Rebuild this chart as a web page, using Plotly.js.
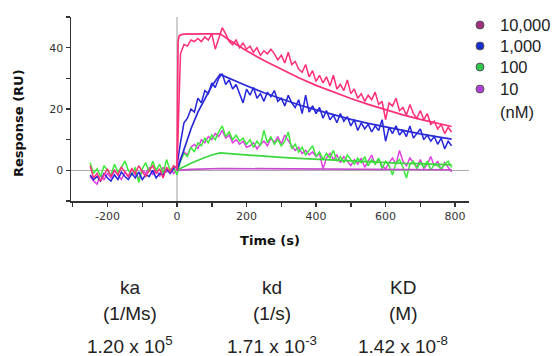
<!DOCTYPE html>
<html>
<head>
<meta charset="utf-8">
<script src="https://cdn.plot.ly/plotly-3.0.1.min.js"></script>
<style>html,body{margin:0;padding:0;background:#fff;}#chart{width:555px;height:356px;}</style>
</head>
<body>
<div id="chart"></div>
<script>
// ---- data ----
const time = [-250,-240,-230,-220,-210,-200,-190,-180,-170,-160,-150,-140,-130,-120,-110,-100,-90,-80,-70,-60,-50,-40,-30,-20,-10,0,
  10,20,30,40,50,60,70,80,90,100,110,120,130,140,150,160,170,180,190,200,
  210,220,230,240,250,260,270,280,290,300,310,320,330,340,350,360,370,380,390,400,
  410,420,430,440,450,460,470,480,490,500,510,520,530,540,550,560,570,580,590,600,
  610,620,630,640,650,660,670,680,690,700,710,720,730,740,750,760,770,780,790];

const resp10000 = [1.5,-2.5,-1,-3.5,-1.5,0.5,-2,0,-1.5,1,-0.5,-2,0.5,-1,1.5,-0.5,-2,0,1.5,-1,0.5,-2.5,1,-0.5,1.5,0.5,
  38,41,40.5,42.5,42,43,42,43.5,42.5,44.5,
  39.5,43,46.5,44.5,42,41,42.5,40,41.5,39.5,
  40.5,38.5,40,37.5,39,38,39.5,38,36,37.5,
  35,38.5,34.5,35.5,33,32,34.5,30.5,32.5,29,
  31,28.5,30.5,27.5,31,26.5,28,26,29.5,25,
  26.5,23.5,25,22.5,24.5,23,25.5,21.5,22.5,16.5,
  22,21,23.5,19.5,20.5,18,21.5,18.5,17,19.5,
  16.5,18.5,15,16,13.5,15,12,14,12.5];

const resp1000 = [-1.5,-3,-2,-3.5,-1,-2.5,-3.5,-1.5,-3,-0.5,-2,-3,-1,-2.5,-0.5,-3,-1.5,-2,0,-2.5,-1,-1.5,0.5,-1,0.5,1.5,
  9,15.5,17,20,19,23.5,22,26,25,28.5,
  27,30,31.5,28,29.5,26.5,28,25,22,26.5,
  24.5,27,23.5,25,22.5,25.5,24,26,22.5,23.5,
  21,24.5,22,20.5,23,18.5,24.5,19,21,18.5,
  20.5,17,19.5,16.5,18,15.5,18.5,16,17.5,14.5,
  16.5,13,15.5,13.5,15,12.5,14.5,13,16.5,9.5,
  14,12,14.5,11.5,13,11,14.5,10.5,12,13.5,
  10,11.5,9.5,11,8.5,10.5,7,9.5,8];

const resp100 = [2.5,-1,0.5,-2,1.5,0,-1.5,2,-0.5,1,3,0,-1.5,1,-4,0.5,2.5,-0.5,3,0,2,-1,3.5,0,1,-1.5,
  3,5.5,4.5,7.5,6,9,8,10.5,9,11.5,
  10,12.5,14.5,11,12.5,10,11.5,9.5,10.5,8.5,
  10,7.5,9.5,8,13,9,11,8.5,10,8,
  9.5,12.5,7,8.5,6,7.5,5,6.5,8,4.5,
  6,3.5,5.5,4,6.5,3,4.5,2.5,5,3.5,
  2,4,2.5,4.5,1.5,3.5,2,4,0.5,3,
  1.5,-1.5,2.5,3.5,1,-2.5,2,3,0.5,2.5,
  1,3,0,2,1.5,0.5,2,3,1];

const resp10 = [-2,-3.5,-4.5,-1.5,-3,-1,-2.5,0,-1.5,-3,-0.5,-2,0.5,-1.5,-2.5,0,-1,1,-1.5,0.5,-2,1,-0.5,0.5,-1,0.5,
  4,6,5,7.5,8.5,7,10,9,11,10,
  12,11,13,10.5,11.5,9,10,8.5,9.5,7.5,
  8,9,7,8.5,9.5,8,10.5,9,11,8.5,
  11.5,9.5,8,6.5,7.5,5.5,6.5,5,6,4.5,
  5.5,0.5,4,5.5,3.5,5,2.5,4.5,3,1.5,
  3.5,2,4,1,3,5,2,3.5,1.5,0.5,
  2.5,4,2,6.5,3,1.5,4,2.5,1,3.5,
  0.5,2,4.5,1.5,3,0,2.5,1,-0.5];

const fitTime = [0,3,6,10,20,40,60,80,100,124,150,200,250,300,350,400,450,500,550,600,650,700,750,790];
const fit10000 = [0,42,43.8,44.2,44.4,44.5,44.5,44.5,44.5,44.5,42.5,39.0,35.8,32.9,30.2,27.7,25.5,23.4,21.5,19.7,18.1,16.6,15.3,14.3];
const fit1000  = [0,1,2.1,3.5,7,13.5,19,23.5,27.5,31.3,30.0,27.6,25.3,23.3,21.4,19.7,18.1,16.6,15.3,14.1,12.9,11.9,10.9,10.2];
const fit100   = [0,0.2,0.35,0.6,1.2,2.3,3.3,4.2,5.0,5.7,5.45,5.0,4.6,4.2,3.9,3.6,3.3,3.0,2.8,2.6,2.3,2.2,2.0,1.8];
const fit10    = [0,0,0.05,0.08,0.15,0.3,0.4,0.5,0.55,0.6,0.57,0.53,0.48,0.44,0.41,0.38,0.35,0.32,0.29,0.27,0.25,0.23,0.21,0.19];

const concLabels = ['10,000','1,000','100','10'];
const concUnit = '(nM)';
const xTickVals = [-200,0,200,400,600,800];
const xTickText = ['-200','0','200','400','600','800'];
const xMinorVals = [-300,-100,100,300,500,700];
const yTickVals = [0,20,40];
const yTickText = ['0','20','40'];
const yMinorVals = [-10,10,30,50];

const paramNames = ['ka','kd','KD'];
const paramUnits = ['(1/Ms)','(1/s)','(M)'];
const paramValues = ['1.20 x 10<sup>5</sup>','1.71 x 10<sup>-3</sup>','1.42 x 10<sup>-8</sup>'];

// ---- styles ----
const lineColors = ['#ff2e78','#2424dc','#3bea3b','#e23ee2'];
const fitColors  = ['#ff2e78','#2a2ad8','#3ad83a','#c848d0'];
const legendColors = ['#a0307f','#1530d2','#30c84a','#b23ed8'];
const dataSets = [resp10000, resp1000, resp100, resp10];
const fitSets = [fit10000, fit1000, fit100, fit10];

const traces = [];
[3,2,1,0].forEach(i => {
  traces.push({x: time, y: dataSets[i], type: 'scatter', mode: 'lines', name: concLabels[i] + ' nM data',
    line: {color: lineColors[i], width: 1.5}, showlegend: false, hoverinfo: 'skip'});
});
[3,2,1,0].forEach(i => {
  traces.push({x: fitTime, y: fitSets[i], type: 'scatter', mode: 'lines', name: concLabels[i] + ' nM fit',
    line: {color: fitColors[i], width: 1.7}, showlegend: false, hoverinfo: 'skip'});
});

// plot-area geometry (pixels) used to place legend / table in paper coords
const PL = 71, PW = 398, PT = 17, PH = 184;
const px2x = p => (p - PL) / PW;
const py2y = p => (PT + PH - p) / PH;

const annotations = [];
const shapes = [];
const legFont = {family: 'Liberation Sans, Arial, sans-serif', size: 16.5, color: '#222'};
const legRowY = [25, 46, 67, 89];
concLabels.forEach((lab, i) => {
  const cy = legRowY[i];
  shapes.push({type: 'circle', xref: 'paper', yref: 'paper',
    x0: px2x(476), x1: px2x(484), y0: py2y(cy + 4), y1: py2y(cy - 4),
    fillcolor: legendColors[i], line: {color: '#555', width: 1}});
  annotations.push({text: lab, xref: 'paper', yref: 'paper', x: px2x(498), y: py2y(cy),
    xanchor: 'left', yanchor: 'middle', showarrow: false, font: legFont});
});
annotations.push({text: concUnit, xref: 'paper', yref: 'paper', x: px2x(498), y: py2y(112),
  xanchor: 'left', yanchor: 'middle', showarrow: false, font: legFont});

const tableX = [130, 272, 403];
const tableRowY = [287, 313, 345];
const tf = {family: 'Liberation Sans, Arial, sans-serif', size: 19, color: '#222'};
paramNames.forEach((p, i) => {
  [p, paramUnits[i], paramValues[i]].forEach((t, r) => {
    annotations.push({text: t, xref: 'paper', yref: 'paper', x: px2x(tableX[i]), y: py2y(tableRowY[r]),
      showarrow: false, font: tf, xanchor: 'center', yanchor: 'middle'});
  });
});
annotations.push({text: '<b>Response (RU)</b>', xref: 'paper', yref: 'paper', x: px2x(18), y: py2y(123), textangle: -90,
  showarrow: false, xanchor: 'center', yanchor: 'middle', font: {family: 'DejaVu Sans, sans-serif', size: 13, color: '#111'}});

const tickFont = {family: 'DejaVu Sans, sans-serif', size: 11, color: '#333'};
const layout = {
  width: 555, height: 356,
  margin: {l: PL, r: 555 - PL - PW, t: PT, b: 356 - PT - PH, pad: 0},
  paper_bgcolor: '#fff', plot_bgcolor: '#fff',
  showlegend: false,
  xaxis: {range: [-305, 840], tickmode: 'array', tickvals: xTickVals, ticktext: xTickText,
    ticks: 'outside', ticklen: 4, tickwidth: 1.5, tickcolor: '#333',
    minor: {tickmode: 'array', tickvals: xMinorVals, ticks: 'outside', ticklen: 4, tickwidth: 1.5, tickcolor: '#333', showgrid: false},
    showline: true, linecolor: '#333', linewidth: 1.5, showgrid: false,
    zeroline: true, zerolinecolor: '#cfcfcf', zerolinewidth: 1.5,
    tickfont: tickFont,
    title: {text: '<b>Time (s)</b>', font: {family: 'DejaVu Sans, sans-serif', size: 13, color: '#111'}, standoff: 14}},
  yaxis: {range: [-10, 50], tickmode: 'array', tickvals: yTickVals, ticktext: yTickText,
    ticks: 'outside', ticklen: 4, tickwidth: 1.5, tickcolor: '#333',
    minor: {tickmode: 'array', tickvals: yMinorVals, ticks: 'outside', ticklen: 4, tickwidth: 1.5, tickcolor: '#333', showgrid: false},
    showline: true, linecolor: '#333', linewidth: 1.5, showgrid: false,
    zeroline: true, zerolinecolor: '#aaaaaa', zerolinewidth: 1,
    tickfont: tickFont},
  annotations: annotations,
  shapes: shapes
};

Plotly.newPlot('chart', traces, layout, {staticPlot: true, displayModeBar: false});
</script>
</body>
</html>
